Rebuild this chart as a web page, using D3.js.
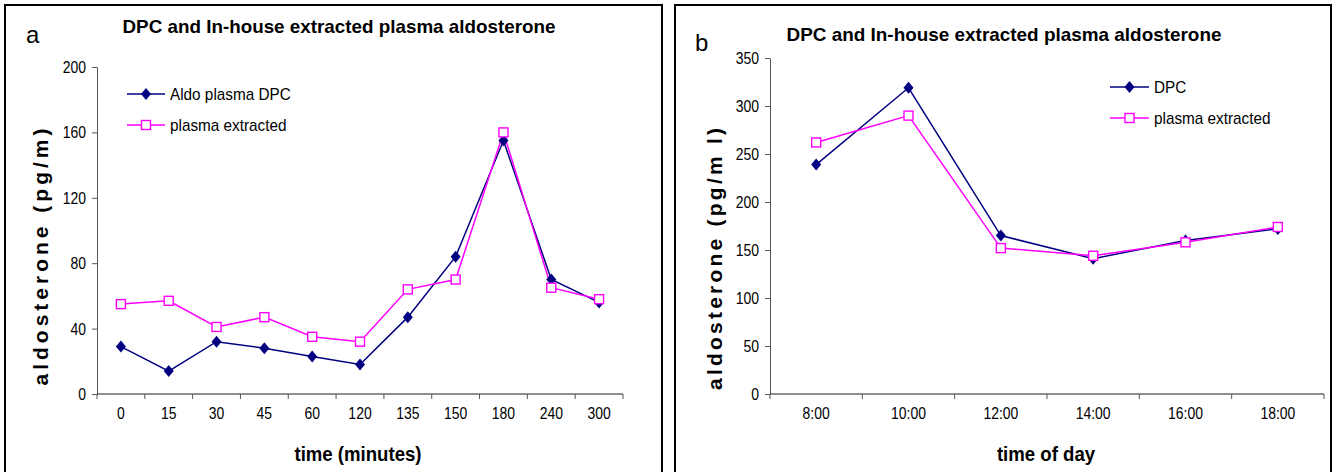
<!DOCTYPE html>
<html>
<head>
<meta charset="utf-8">
<script src="https://cdn.jsdelivr.net/npm/d3@7/dist/d3.min.js"></script>
<style>
  html, body { margin: 0; padding: 0; background: #fff; }
  svg { display: block; }
  .narrow { font-family: "Liberation Sans", Arial, sans-serif; }
  .bold { font-family: "Liberation Sans", Arial, sans-serif; font-weight: bold; }
</style>
</head>
<body>
<svg id="chart" width="1340" height="472"></svg>
<script>
// Panel a: time course in minutes
const minutesCats = ["0", "15", "30", "45", "60", "120", "135", "150", "180", "240", "300"];
const minutesDPC = [29, 14, 32, 28, 23, 18, 47, 84, 155, 70, 56];
const minutesExtracted = [55, 57, 41, 47, 35, 32, 64, 70, 160, 65, 58];
const minutesTicks = [0, 40, 80, 120, 160, 200];

// Panel b: time of day
const dayCats = ["8:00", "10:00", "12:00", "14:00", "16:00", "18:00"];
const dayDPC = [239, 319, 165, 141, 160, 172];
const dayExtracted = [262, 290, 152, 144, 158, 174];
const dayTicks = [0, 50, 100, 150, 200, 250, 300, 350];

const NAVY = "#000080";
const MAGENTA = "#ff00ff";
const svg = d3.select("#chart");

// condense a text element horizontally (narrow typeface look)
function squeeze(sel, factor) {
  sel.each(function () {
    const w = this.getComputedTextLength();
    this.setAttribute("textLength", w * factor);
    this.setAttribute("lengthAdjust", "spacingAndGlyphs");
  });
}

function panel(cfg) {
  const g = svg.append("g");

  // frame
  g.append("rect")
    .attr("x", cfg.frame[0]).attr("y", cfg.frame[1])
    .attr("width", cfg.frame[2]).attr("height", cfg.frame[3])
    .attr("fill", "none").attr("stroke", "#000").attr("stroke-width", 2);

  const x = d3.scaleBand().domain(cfg.cats).range([cfg.x0, cfg.x1]).paddingInner(0).paddingOuter(0);
  const y = d3.scaleLinear().domain([0, cfg.yMax]).range([cfg.yBottom, cfg.yTop]);

  // y axis
  const yAxis = g.append("g")
    .attr("transform", `translate(${cfg.x0},0)`)
    .call(d3.axisLeft(y).tickValues(cfg.ticks).tickSize(5).tickSizeOuter(0).tickPadding(6));
  yAxis.select(".domain").attr("stroke", "#555");
  yAxis.selectAll(".tick line").attr("stroke", "#555");
  yAxis.selectAll("text").attr("class", "narrow").attr("font-size", 17).attr("fill", "#000");
  squeeze(yAxis.selectAll("text"), 0.82);

  // x axis: labels at category centres, ticks at category boundaries
  const xAxis = g.append("g")
    .attr("transform", `translate(0,${cfg.yBottom})`)
    .call(d3.axisBottom(x).tickSize(0).tickSizeOuter(0).tickPadding(13));
  xAxis.select(".domain").remove();
  xAxis.selectAll("text").attr("class", "narrow").attr("font-size", 17).attr("fill", "#000");
  squeeze(xAxis.selectAll("text"), 0.82);
  g.append("line")
    .attr("x1", cfg.x0).attr("x2", cfg.x1)
    .attr("y1", cfg.yBottom).attr("y2", cfg.yBottom)
    .attr("stroke", "#222").attr("stroke-width", 1.2);
  const bounds = cfg.cats.map(c => x(c)).concat([cfg.x1]);
  g.selectAll(".xtick").data(bounds).enter().append("line")
    .attr("x1", d => d).attr("x2", d => d)
    .attr("y1", cfg.yBottom).attr("y2", cfg.yBottom + 5)
    .attr("stroke", "#555");

  const cx = c => x(c) + x.bandwidth() / 2;
  const line = d3.line().x(d => cx(d.c)).y(d => y(d.v));

  const s1 = cfg.cats.map((c, i) => ({ c, v: cfg.dpc[i] }));
  const s2 = cfg.cats.map((c, i) => ({ c, v: cfg.ext[i] }));

  g.append("path").datum(s1).attr("d", line)
    .attr("fill", "none").attr("stroke", NAVY).attr("stroke-width", 1.5);
  g.append("path").datum(s2).attr("d", line)
    .attr("fill", "none").attr("stroke", MAGENTA).attr("stroke-width", 1.5);

  const diamond = (px, py) => `M${px},${py - 6}L${px + 5},${py}L${px},${py + 6}L${px - 5},${py}Z`;

  g.selectAll(".dm").data(s1).enter().append("path")
    .attr("d", d => diamond(cx(d.c), y(d.v))).attr("fill", NAVY);
  g.selectAll(".sq").data(s2).enter().append("rect")
    .attr("x", d => cx(d.c) - 4.5).attr("y", d => y(d.v) - 4.5)
    .attr("width", 9).attr("height", 9)
    .attr("fill", "#fff").attr("stroke", MAGENTA).attr("stroke-width", 1.4);

  // legend
  const L = cfg.legend;
  g.append("line").attr("x1", L.x).attr("x2", L.x + L.w).attr("y1", L.y1).attr("y2", L.y1)
    .attr("stroke", NAVY).attr("stroke-width", 1.5);
  g.append("path").attr("d", diamond(L.x + L.w / 2, L.y1)).attr("fill", NAVY);
  const t1 = g.append("text").attr("class", "narrow").attr("x", L.x + L.w + 5).attr("y", L.y1 + 6)
    .attr("font-size", 17).text(cfg.names[0]);
  g.append("line").attr("x1", L.x).attr("x2", L.x + L.w).attr("y1", L.y2).attr("y2", L.y2)
    .attr("stroke", MAGENTA).attr("stroke-width", 1.5);
  g.append("rect").attr("x", L.x + L.w / 2 - 4.5).attr("y", L.y2 - 4.5).attr("width", 9).attr("height", 9)
    .attr("fill", "#fff").attr("stroke", MAGENTA).attr("stroke-width", 1.4);
  const t2 = g.append("text").attr("class", "narrow").attr("x", L.x + L.w + 5).attr("y", L.y2 + 6)
    .attr("font-size", 17).text(cfg.names[1]);
  squeeze(t1, 0.9);
  squeeze(t2, 0.9);

  // titles
  g.append("text").attr("class", "bold").attr("x", cfg.titleX).attr("y", cfg.titleY)
    .attr("text-anchor", "middle").attr("font-size", 19)
    .attr("textLength", cfg.titleW).attr("lengthAdjust", "spacingAndGlyphs")
    .text(cfg.title);
  g.append("text").attr("x", cfg.letter[0]).attr("y", cfg.letter[1])
    .attr("font-family", "Liberation Sans, Arial, sans-serif").attr("font-size", 24).text(cfg.letter[2]);
  g.append("text").attr("class", "bold").attr("font-size", 21)
    .attr("text-anchor", "middle")
    .attr("transform", `translate(${cfg.yTitle[0]},${cfg.yTitle[1]}) rotate(-90)`)
    .attr("textLength", cfg.yTitle[3]).attr("lengthAdjust", "spacing")
    .text(cfg.yTitle[2]);
  const xt = g.append("text").attr("class", "bold").attr("font-size", 20)
    .attr("text-anchor", "middle")
    .attr("x", cfg.xTitleX).attr("y", cfg.xTitleY)
    .text(cfg.xTitle);
  squeeze(xt, 0.93);
}

panel({
  frame: [5, 5, 657, 480],
  cats: minutesCats, dpc: minutesDPC, ext: minutesExtracted, ticks: minutesTicks,
  x0: 97, x1: 623, yTop: 67, yBottom: 394, yMax: 200,
  legend: { x: 127, w: 38, y1: 94, y2: 125 },
  names: ["Aldo plasma DPC", "plasma extracted"],
  title: "DPC and In-house extracted plasma aldosterone", titleX: 339, titleY: 33, titleW: 433,
  letter: [26, 43, "a"],
  yTitle: [48, 257, "aldosterone (pg/m)", 257],
  xTitle: "time (minutes)", xTitleX: 358, xTitleY: 461
});

panel({
  frame: [675, 5, 656, 480],
  cats: dayCats, dpc: dayDPC, ext: dayExtracted, ticks: dayTicks,
  x0: 770, x1: 1324, yTop: 58, yBottom: 394, yMax: 350,
  legend: { x: 1110, w: 39, y1: 87, y2: 118 },
  names: ["DPC", "plasma extracted"],
  title: "DPC and In-house extracted plasma aldosterone", titleX: 1004, titleY: 41, titleW: 435,
  letter: [695, 51, "b"],
  yTitle: [722, 259, "aldosterone (pg/m l)", 262],
  xTitle: "time of day", xTitleX: 1046, xTitleY: 461
});
</script>
</body>
</html>
